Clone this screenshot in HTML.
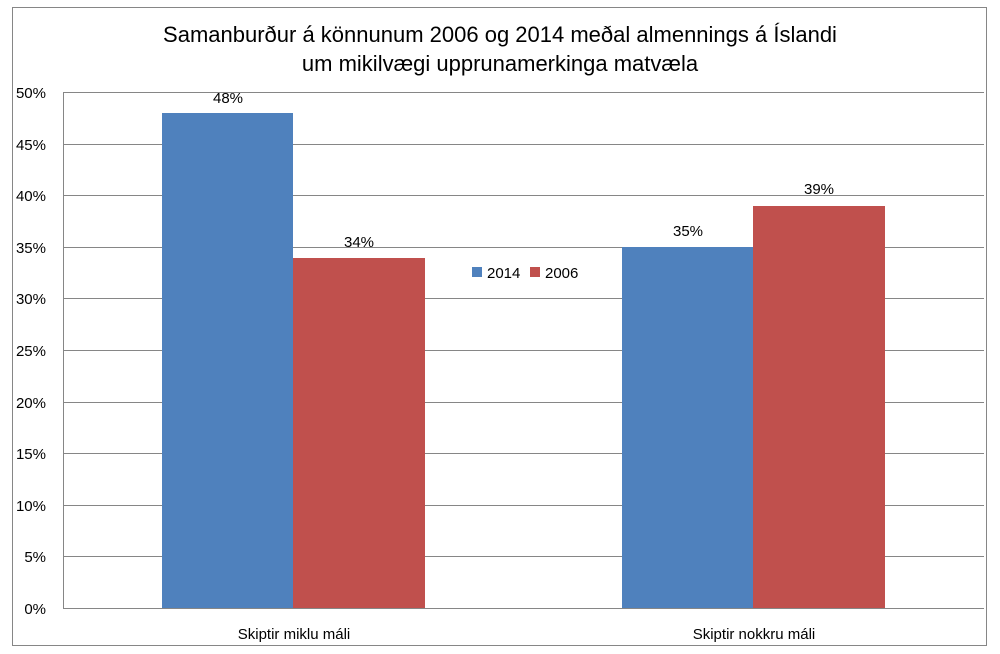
<!DOCTYPE html>
<html><head><meta charset="utf-8"><style>
body{margin:0;background:#fff;}
svg{display:block;font-family:"Liberation Sans","DejaVu Sans",sans-serif;}
</style></head><body>
<svg width="1000" height="654" viewBox="0 0 1000 654">
<rect x="0" y="0" width="1000" height="654" fill="#fff"/>
<rect x="12.5" y="7.5" width="974" height="638" fill="none" stroke="#868686" stroke-width="1"/>
<text x="500" y="42" font-size="22" text-anchor="middle" fill="#000">Samanburður á könnunum 2006 og 2014 meðal almennings á Íslandi</text>
<text x="500" y="71" font-size="22" text-anchor="middle" fill="#000">um mikilvægi upprunamerkinga matvæla</text>
<g stroke="#868686" stroke-width="1">
<line x1="63" y1="92.5" x2="984" y2="92.5"/>
<line x1="63" y1="144.5" x2="984" y2="144.5"/>
<line x1="63" y1="195.5" x2="984" y2="195.5"/>
<line x1="63" y1="247.5" x2="984" y2="247.5"/>
<line x1="63" y1="298.5" x2="984" y2="298.5"/>
<line x1="63" y1="350.5" x2="984" y2="350.5"/>
<line x1="63" y1="402.5" x2="984" y2="402.5"/>
<line x1="63" y1="453.5" x2="984" y2="453.5"/>
<line x1="63" y1="505.5" x2="984" y2="505.5"/>
<line x1="63" y1="556.5" x2="984" y2="556.5"/>
<line x1="63" y1="608.5" x2="984" y2="608.5"/>
<line x1="63.5" y1="92" x2="63.5" y2="608"/>
</g>
<g font-size="15" fill="#000" text-anchor="end">
<text x="46" y="98">50%</text><text x="46" y="150">45%</text><text x="46" y="201">40%</text>
<text x="46" y="253">35%</text><text x="46" y="304">30%</text><text x="46" y="356">25%</text>
<text x="46" y="408">20%</text><text x="46" y="459">15%</text><text x="46" y="511">10%</text>
<text x="46" y="562">5%</text><text x="46" y="614">0%</text>
</g>
<rect x="162" y="113" width="131" height="495" fill="#4F81BD"/>
<rect x="293" y="258" width="132" height="350" fill="#C0504D"/>
<rect x="622" y="247" width="131" height="361" fill="#4F81BD"/>
<rect x="753" y="206" width="132" height="402" fill="#C0504D"/>
<g font-size="15" fill="#000" text-anchor="middle">
<text x="228" y="103">48%</text><text x="359" y="247">34%</text>
<text x="688" y="236">35%</text><text x="819" y="194">39%</text>
<text x="294" y="639">Skiptir miklu máli</text>
<text x="754" y="639">Skiptir nokkru máli</text>
</g>
<rect x="472" y="267" width="10" height="10" fill="#4F81BD"/>
<text x="487" y="278" font-size="15">2014</text>
<rect x="530" y="267" width="10" height="10" fill="#C0504D"/>
<text x="545" y="278" font-size="15">2006</text>
</svg>
</body></html>
